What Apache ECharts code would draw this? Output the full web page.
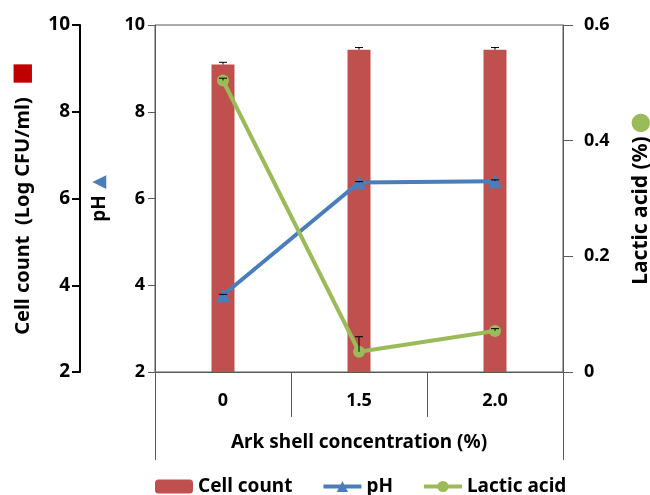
<!DOCTYPE html>
<html lang="en">
<head>
    <meta charset="UTF-8">
    <title>Ark shell</title>
</head>
<body style="margin:0">
<div id="main" style="width: 650px;height:495px;"></div>
</body>
<script src="https://cdn.jsdelivr.net/npm/echarts@6.0.0/dist/echarts.min.js"></script>
<script>

// data
const concentrations = ['0', '1.5', '2.0']
const cellCount = [9.09, 9.43, 9.43]
const cellCountErr = [0.05, 0.05, 0.05]
const phValues = [3.77, 6.37, 6.40]
const phErr = [0.02, 0.02, 0.03]
const lacticAcid = [0.504, 0.035, 0.071]
const lacticErr = [0.004, 0.026, 0.004]

const FONT = '"Noto Sans", sans-serif'
const RED = '#c0504d'
const BLUE = '#4a7ebb'
const GREEN = '#9bbb59'
const AXIS = '#595959'

let chartDom = document.getElementById('main');
let myChart = echarts.init(chartDom);

// upward error bar with a small cap
function errorSeries(values, errs, yIndex) {
    return {
        type: 'custom',
        yAxisIndex: yIndex,
        z: 5,
        data: values.map((v, i) => [i, v, v + errs[i]]),
        renderItem: function (params, api) {
            let p0 = api.coord([api.value(0), api.value(1)])
            let p1 = api.coord([api.value(0), api.value(2)])
            return {
                type: 'group',
                children: [
                    {type: 'line', shape: {x1: p0[0], y1: p0[1], x2: p1[0], y2: p1[1]}, style: {stroke: '#000', lineWidth: 1}},
                    {type: 'line', shape: {x1: p1[0] - 4, y1: p1[1], x2: p1[0] + 4, y2: p1[1]}, style: {stroke: '#000', lineWidth: 1}}
                ]
            }
        }
    }
}

let option = {
    textStyle: {fontFamily: FONT},
    grid: {
        left: 155, right: 87, top: 25, bottom: 123,
        outerBoundsMode: 'none',
        containLabel: false,
        show: true, borderColor: AXIS, borderWidth: 1
    },
    legend: {
        data: ['Cell count', 'pH', 'Lactic acid'],
        left: 150, top: 472,
        itemWidth: 38, itemHeight: 14, itemGap: 29,
        lineStyle: {width: 4},
        textStyle: {fontSize: 19, fontWeight: 'bold', color: '#000', fontFamily: FONT}
    },
    xAxis: [
        {
            type: 'category',
            data: concentrations,
            axisLine: {lineStyle: {color: AXIS}},
            axisTick: {show: true, length: 45, lineStyle: {color: AXIS}},
            axisLabel: {fontSize: 18, fontWeight: 'bold', color: '#000', margin: 20},
            name: 'Ark shell concentration (%)',
            nameLocation: 'middle',
            nameGap: 61,
            nameTextStyle: {fontSize: 19, fontWeight: 'bold', color: '#000'}
        },
        {
            type: 'category',
            data: [''],
            position: 'bottom',
            axisLine: {show: false},
            axisTick: {show: true, length: 88, lineStyle: {color: AXIS}},
            axisLabel: {show: false}
        }
    ],
    yAxis: [
        {
            type: 'value', position: 'left',
            min: 2, max: 10, interval: 2,
            splitLine: {show: false},
            axisLine: {show: true, lineStyle: {color: AXIS}},
            axisTick: {show: true, length: 7, lineStyle: {color: AXIS}},
            axisLabel: {fontSize: 18, fontWeight: 'bold', color: '#000', margin: 10},
            name: '{t|pH}  {tri|▲}',
            nameLocation: 'middle', nameRotate: 90, nameGap: 46,
            nameTextStyle: {
                rich: {
                    t: {fontSize: 19, fontWeight: 'bold', color: '#000', fontFamily: FONT},
                    tri: {fontSize: 18, color: BLUE, fontFamily: 'DejaVu Sans'}
                }
            }
        },
        {
            type: 'value', position: 'left', offset: 75,
            min: 2, max: 10, interval: 2,
            splitLine: {show: false},
            axisLine: {show: true, lineStyle: {color: '#000', width: 2}},
            axisTick: {show: true, length: 8, lineStyle: {color: '#000', width: 2}},
            axisLabel: {fontSize: 19, fontWeight: 'bold', color: '#000', margin: 10},
            name: '{t|Cell count  (Log CFU/ml)}    {sq|■}',
            nameLocation: 'middle', nameRotate: 90, nameGap: 45,
            nameTextStyle: {
                rich: {
                    t: {fontSize: 20, fontWeight: 'bold', color: '#000', fontFamily: FONT},
                    sq: {fontSize: 24, color: '#c00000', fontFamily: 'DejaVu Sans'}
                }
            }
        },
        {
            type: 'value', position: 'right',
            min: 0, max: 0.6, interval: 0.2,
            splitLine: {show: false},
            axisLine: {show: true, lineStyle: {color: AXIS}},
            axisTick: {show: true, length: 10, lineStyle: {color: AXIS}},
            axisLabel: {fontSize: 18, fontWeight: 'bold', color: '#000', margin: 21},
            name: '{t|Lactic acid (%)} {c|●}',
            nameLocation: 'middle', nameRotate: 90, nameGap: 66,
            nameTextStyle: {
                rich: {
                    t: {fontSize: 21, fontWeight: 'bold', color: '#000', fontFamily: FONT},
                    c: {fontSize: 24, color: GREEN, fontFamily: 'DejaVu Sans'}
                }
            }
        }
    ],
    series: [
        {
            name: 'Cell count',
            type: 'bar',
            yAxisIndex: 1,
            barWidth: 23,
            data: cellCount,
            itemStyle: {color: RED}
        },
        errorSeries(cellCount, cellCountErr, 1),
        {
            name: 'pH',
            type: 'line',
            yAxisIndex: 0,
            data: phValues,
            symbol: 'triangle', symbolSize: 14,
            lineStyle: {color: BLUE, width: 4},
            itemStyle: {color: BLUE},
            z: 3
        },
        errorSeries(phValues, phErr, 0),
        {
            name: 'Lactic acid',
            type: 'line',
            yAxisIndex: 2,
            data: lacticAcid,
            symbol: 'circle', symbolSize: 12,
            lineStyle: {color: GREEN, width: 4},
            itemStyle: {color: GREEN},
            z: 4
        },
        errorSeries(lacticAcid, lacticErr, 2)
    ],
    animation: false
}

option && myChart.setOption(option);

</script>
</html>
